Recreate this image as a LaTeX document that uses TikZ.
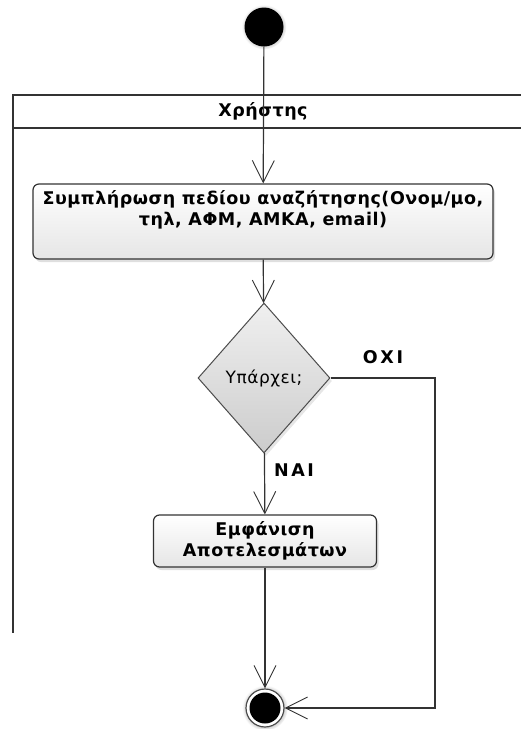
\documentclass[tikz,border=0pt]{standalone}
\usepackage{fontspec}
\setmainfont{DejaVu Sans}
\newfontfamily\widefont[LetterSpace=3]{DejaVu Sans}
\newfontfamily\labelfont[LetterSpace=15]{DejaVu Sans}
\usetikzlibrary{arrows.meta,shapes.geometric,shadows}
\begin{document}
\begin{tikzpicture}[x=1pt,y=-1pt,
  line/.style={draw=black!80, line width=1.2pt},
  flow/.style={line, -{Straight Barb[length=22pt,width=22pt,line width=0.9pt]}},
  action/.style={rectangle, rounded corners=6pt, draw=black!80, line width=1.2pt,
    top color=white, bottom color=black!10, align=center, inner sep=0pt,
    font=\widefont\fontsize{17.5}{21}\selectfont\bfseries,
    drop shadow={shadow xshift=2pt, shadow yshift=-3pt, opacity=0.25}},
  decision/.style={diamond, draw=black!70, line width=1pt, inner sep=0pt,
    minimum width=132pt, minimum height=150pt,
    top color=black!6, bottom color=black!20,
    font=\widefont\fontsize{17}{20}\selectfont,
    drop shadow={shadow xshift=2pt, shadow yshift=-3pt, opacity=0.2}},
  startnode/.style={circle, fill=black, minimum size=39pt, inner sep=0pt,
    circular drop shadow={shadow xshift=0pt, shadow yshift=0pt, shadow scale=1.15, opacity=0.3}},
  lbl/.style={font=\labelfont\fontsize{17.5}{18}\selectfont\bfseries},
  lanetitle/.style={font=\widefont\fontsize{17.5}{18}\selectfont\bfseries}
]
\useasboundingbox (0,0) rectangle (521,729);

% swimlane
\draw[line] (530,95) -- (13,95) -- (13,633);
\draw[line] (13,128) -- (530,128);
\node[lanetitle] (lane) at (263,111) {Χρήστης};

% nodes
\node[startnode] (init) at (264,27) {};
\node[action, minimum width=460pt, minimum height=75pt] (a1) at (263,221.5)
  {Συμπλήρωση πεδίου αναζήτησης(Ονομ/μο,\\τηλ, ΑΦΜ, ΑΜΚΑ, email)\\[7pt]};
\node[decision] (dec) at (264,378) {Υπάρχει;};
\node[action, minimum width=223pt, minimum height=52pt] (a2) at (265,541)
  {Εμφάνιση\\Αποτελεσμάτων};
\node[circle, draw=black!70, line width=1.2pt, fill=white, minimum size=38pt, inner sep=0pt,
  circular drop shadow={shadow xshift=0pt, shadow yshift=0pt, shadow scale=1.2, opacity=0.3}]
  (fin) at (265,708) {};
\node[circle, fill=black, minimum size=31pt, inner sep=0pt] (finc) at (fin) {};
\coordinate (rx) at (435,0);

% labels
\node[lbl] (oxi) at (383,357) {ΟΧΙ};
\node[lbl] (nai) at (294,470) {ΝΑΙ};

% connectors
\draw[flow] (init) -- (a1);
\draw[flow] (a1) -- (dec);
\draw[flow] (dec) -- (a2);
\draw[flow] (a2.south -| fin) -- (fin);
\draw[flow] (dec.east) -- (dec.east -| rx) |- (fin);
\end{tikzpicture}
\end{document}
